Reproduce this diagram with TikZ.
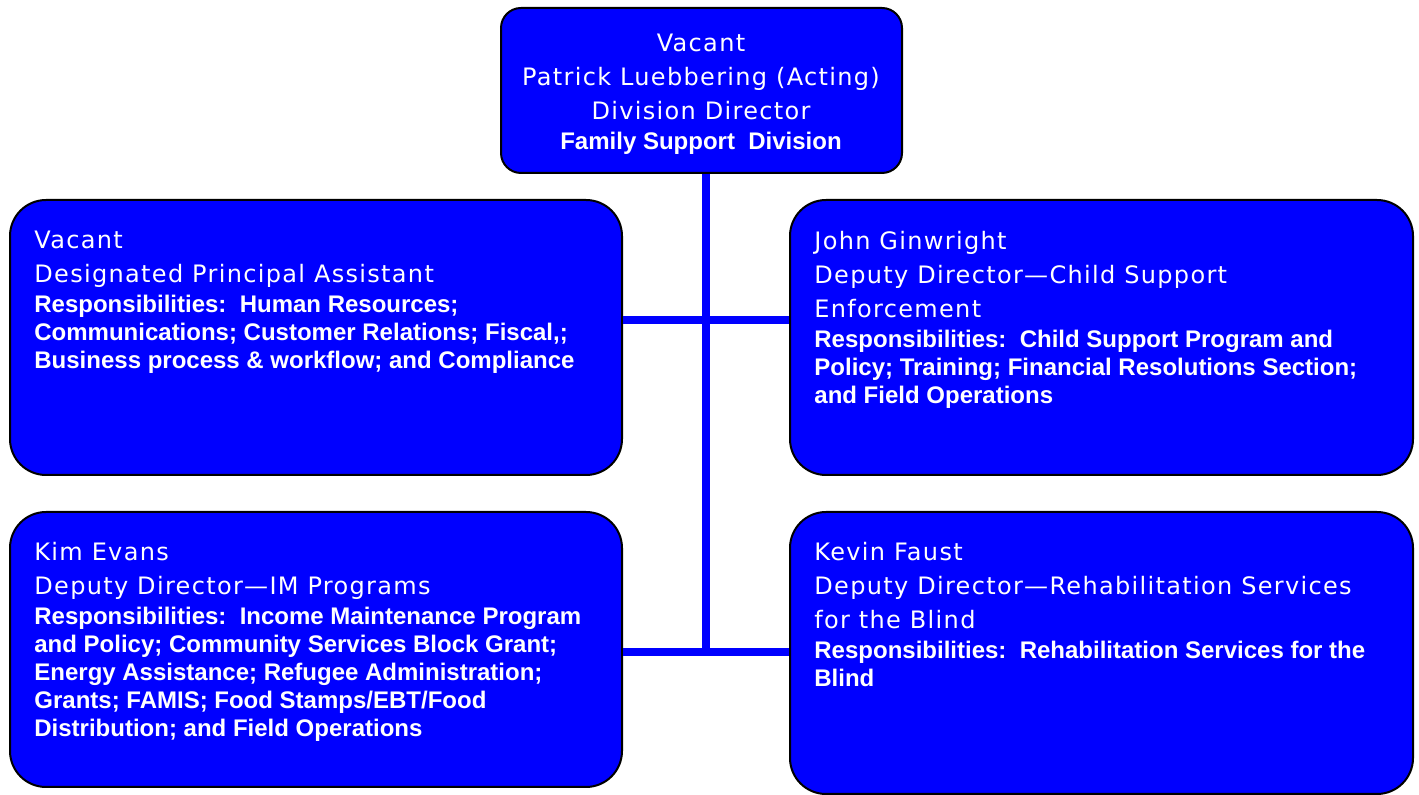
\documentclass[tikz,border=0pt]{standalone}
\usepackage{fontspec}
\setmainfont{Liberation Sans}
\newfontfamily\namefont[LetterSpace=5.5]{DejaVu Sans}

\definecolor{chartblue}{rgb}{0,0,1}

\newcommand\personline[1]{{\namefont\fontsize{12}{17}\selectfont #1\par}}
\newcommand\dutyline[1]{\vspace{0.8pt}{\bfseries\fontsize{12}{14}\selectfont #1\par}}

\begin{document}
\begin{tikzpicture}[x=0.5pt, y=-0.5pt,
    unit/.style={draw=black, line width=1pt, fill=chartblue, rounded corners=18pt, inner sep=0pt},
    caption/.style={text=white, inner sep=0pt, anchor=base west},
    link/.style={chartblue, line width=4pt}]
            \useasboundingbox (0,0) rectangle (1419,795);

            \node[unit, minimum width=200.5pt, minimum height=82.5pt, rounded corners=10pt] (fsd) at (701.5,90.5) {};
            \node[unit, minimum width=306pt, minimum height=137.5pt] (dpa) at (316,337.5) {};
            \node[unit, minimum width=311.5pt, minimum height=137.5pt] (cse) at (1101.5,337.5) {};
            \node[unit, minimum width=306pt, minimum height=137.5pt] (imp) at (316,649.5) {};
            \node[unit, minimum width=311.5pt, minimum height=141pt] (rsb) at (1101.5,653) {};

            \coordinate (upper) at (706,320);
            \coordinate (lower) at (706,652);
            \draw[link] (fsd.south -| upper) -- (lower);
            \draw[link] (dpa.east |- upper) -- (cse.west |- upper);
            \draw[link] (imp.east |- lower) -- (rsb.west |- lower);

            \node[caption, anchor=base] (fsd-text) at (701,52) {\parbox[t]{200pt}{\centering
                \personline{Vacant}
                \personline{Patrick Luebbering (Acting)}
                \personline{Division Director}
                \dutyline{Family Support\ \ Division}}};
            \node[caption] (dpa-text) at (34,249) {\parbox[t]{295pt}{\raggedright
                \personline{Vacant}
                \personline{Designated Principal Assistant}
                \dutyline{Responsibilities:\ \ Human Resources;\\
                Communications; Customer Relations; Fiscal,;\\
                Business process \& workflow; and Compliance}}};
            \node[caption] (cse-text) at (814,250) {\parbox[t]{295pt}{\raggedright
                \personline{John Ginwright}
                \personline{Deputy Director—Child Support}
                \personline{Enforcement}
                \dutyline{Responsibilities:\ \ Child Support Program and\\
                Policy; Training; Financial Resolutions Section;\\
                and Field Operations}}};
            \node[caption] (imp-text) at (34,561) {\parbox[t]{295pt}{\raggedright
                \personline{Kim Evans}
                \personline{Deputy Director—IM Programs}
                \dutyline{Responsibilities:\ \ Income Maintenance Program\\
                and Policy; Community Services Block Grant;\\
                Energy Assistance; Refugee Administration;\\
                Grants; FAMIS; Food Stamps/EBT/Food\\
                Distribution; and Field Operations}}};
            \node[caption] (rsb-text) at (814,561) {\parbox[t]{295pt}{\raggedright
                \personline{Kevin Faust}
                \personline{Deputy Director—Rehabilitation Services}
                \personline{for the Blind}
                \dutyline{Responsibilities:\ \ Rehabilitation Services for the\\
                Blind}}};
        \end{tikzpicture}
\end{document}
